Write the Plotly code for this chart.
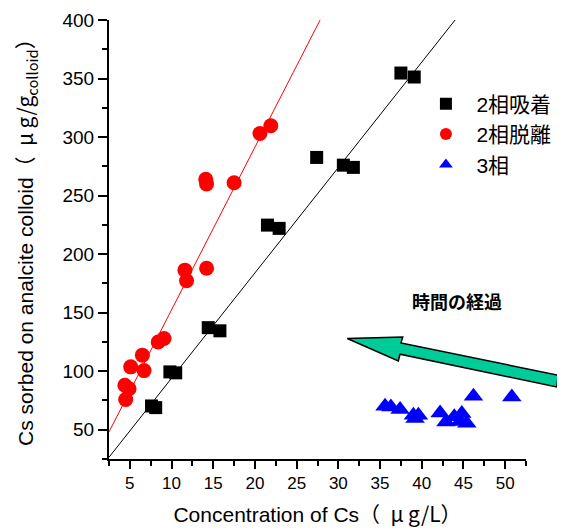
import plotly.graph_objects as go

# ---- data ----
ads_x = [7.6, 8.1, 9.8, 10.5, 14.4, 15.8, 21.5, 22.9, 27.4, 30.6, 31.8, 37.5, 39.1]
ads_y = [70.3, 68.9, 99.4, 98.6, 137.2, 134.5, 224.8, 222.0, 282.6, 276.0, 274.1, 354.7, 351.3]

des_x = [4.4, 4.9, 4.5, 5.1, 6.5, 6.7, 8.4, 9.1, 11.6, 11.8, 14.2, 14.1, 14.2, 17.5, 20.6, 21.9]
des_y = [88.0, 85.0, 75.8, 103.7, 113.7, 100.5, 125.0, 127.9, 186.3, 177.2, 188.0, 264.0, 260.0, 261.0, 303.0, 309.7]

tri_x = [35.6, 36.3, 37.4, 39.0, 39.6, 39.2, 42.2, 42.9, 43.9, 44.8, 44.6, 45.4, 46.2, 50.8]
tri_y = [70.0, 69.5, 67.3, 62.4, 62.4, 59.6, 64.4, 56.7, 61.0, 63.9, 57.0, 55.5, 78.5, 78.0]

# fitted lines: slope, intercept
ads_fit = (9.0, 4.0)
des_fit = (13.9, 13.4)

series_names = ["2相吸着", "2相脱離", "3相"]

X_RANGE = [2.5, 52.5]
Y_RANGE = [25, 400]

FONT = "Liberation Sans, Arial, Noto Sans CJK JP"
CJK = "Noto Sans CJK JP"
SP = "\u2002"
TSP = "\u2009"

fig = go.Figure()

for (m, b), col in [(ads_fit, "black"), (des_fit, "red")]:
    fig.add_trace(go.Scatter(
        x=X_RANGE, y=[m * X_RANGE[0] + b, m * X_RANGE[1] + b],
        mode="lines", line=dict(color=col, width=1), showlegend=False, hoverinfo="skip"))

fig.add_trace(go.Scatter(x=ads_x, y=ads_y, mode="markers", name=SP + series_names[0],
                         marker=dict(symbol="square", size=13, color="black")))
fig.add_trace(go.Scatter(x=des_x, y=des_y, mode="markers", name=SP + series_names[1],
                         marker=dict(symbol="circle", size=15, color="red")))
fig.add_trace(go.Scatter(x=tri_x, y=tri_y, mode="markers", name=SP + series_names[2],
                         marker=dict(symbol="triangle-up", size=17, color="blue")))

# arrow ("時間の経過") defined in data units, drawn in paper units so it can leave the plot
arrow_pts = [(31.07, 127.9), (37.72, 129.3), (37.51, 124.2), (56.37, 96.5),
             (56.18, 86.5), (37.39, 114.5), (37.19, 108.8)]


def to_paper(x, y):
    return ((x - X_RANGE[0]) / (X_RANGE[1] - X_RANGE[0]),
            (y - Y_RANGE[0]) / (Y_RANGE[1] - Y_RANGE[0]))


pp = [to_paper(x, y) for x, y in arrow_pts]
path = "M " + " L ".join(f"{px:.4f},{py:.4f}" for px, py in pp) + " Z"
fig.add_shape(type="path", path=path, xref="paper", yref="paper",
              fillcolor="#00CC99", line=dict(color="black", width=1.5), layer="above")

fig.add_annotation(x=44.2, y=158, xref="x", yref="y", text="<b>時間の経過</b>",
                   showarrow=False, font=dict(size=18, color="black", family=FONT))

x_title = f"Concentration of Cs<span style='font-family:{CJK}'>（{SP}μ{TSP}g/L）</span>"
y_title = (f"Cs sorbed on analcite colloid<span style='font-family:{CJK}'>（{SP}μ{TSP}g/g"
           f"<sub>colloid</sub>）</span>")

# y-axis title as a rotated annotation placed left of the tick labels
fig.add_annotation(x=-0.2, y=0.505, xref="paper", yref="paper", text=y_title,
                   textangle=-90, showarrow=False, xanchor="center", yanchor="middle",
                   font=dict(size=21, color="black", family=FONT))

fig.update_layout(
    width=557, height=522,
    margin=dict(l=101, r=39, t=12, b=71, autoexpand=False),
    paper_bgcolor="white", plot_bgcolor="white",
    font=dict(family=FONT, color="black", size=17),
    legend=dict(x=0.76, y=0.855, xanchor="left", yanchor="top",
                font=dict(size=21, family=FONT), bgcolor="rgba(0,0,0,0)",
                itemsizing="constant", tracegroupgap=0),
    xaxis=dict(range=X_RANGE, tick0=0, dtick=5, showgrid=False, zeroline=False,
               automargin=False,
               showline=True, linecolor="black", linewidth=2,
               ticks="outside", ticklen=8, tickwidth=2, tickcolor="black",
               minor=dict(dtick=2.5, tick0=0, ticks="outside", ticklen=5, tickwidth=2, tickcolor="black"),
               tickfont=dict(size=17),
               title=dict(text=x_title, font=dict(size=21), standoff=15)),
    yaxis=dict(range=Y_RANGE, tick0=0, dtick=50, showgrid=False, zeroline=False,
               automargin=False,
               showline=True, linecolor="black", linewidth=2,
               ticks="outside", ticklen=9, tickwidth=2, tickcolor="black",
               minor=dict(dtick=25, tick0=0, ticks="outside", ticklen=5, tickwidth=2, tickcolor="black"),
               tickfont=dict(size=19)),
)

fig.write_html("out.html")
